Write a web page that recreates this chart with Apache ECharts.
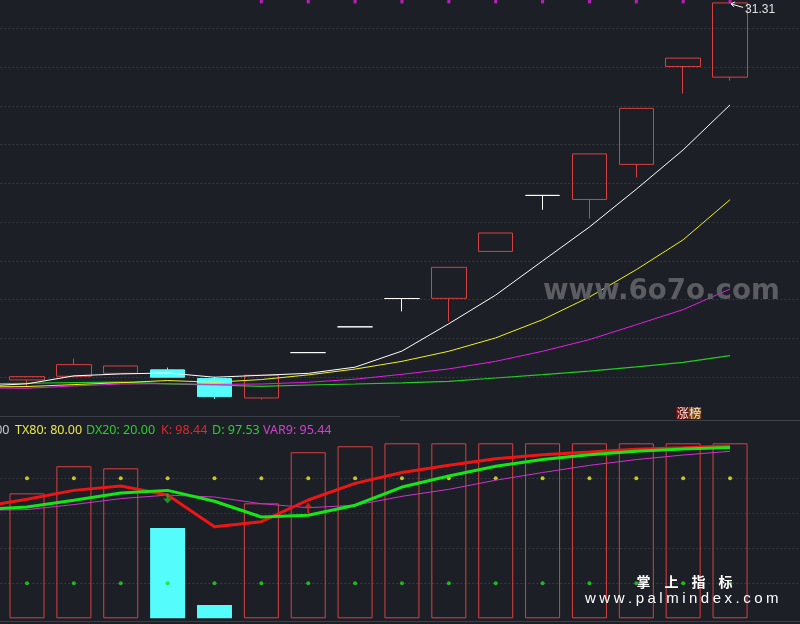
<!DOCTYPE html>
<html><head><meta charset="utf-8">
<script src="https://cdn.jsdelivr.net/npm/echarts@6/dist/echarts.min.js"></script>
<style>html,body{margin:0;padding:0;background:#1d1f27;}#c{width:800px;height:624px;}</style>
</head><body><div id="c"></div>
<script>
// ---------- data ----------
const categories = ['d01','d02','d03','d04','d05','d06','d07','d08','d09','d10','d11','d12','d13','d14','d15','d16','d17','d18'];
const candleOpen  = [null, 11.86, 12.05, 12.20, 12.38, 11.93, 10.93, 13.27, 14.60, 16.06, 16.07, 18.49, 21.38, 21.17, 22.98, 28.03, 27.48, null];
const candleClose = [null, 12.03, 12.65, 12.58, 12.00, 11.00, 12.10, 13.27, 14.60, 16.06, 17.67, 19.44, 21.38, 23.52, 25.87, 28.46, 31.31, null];
const candleLow   = [null, 11.50, 12.05, 12.20, 12.00, 10.88, 10.85, 13.27, 14.60, 15.40, 14.88, 18.49, 20.64, 20.18, 22.31, 26.63, 27.30, null];
const candleHigh  = [null, 12.03, 12.96, 12.58, 12.50, 12.02, 12.10, 13.27, 14.60, 16.06, 17.67, 19.44, 21.38, 23.52, 25.87, 28.46, 31.31, null];
const ma5  = [11.54, 11.66, 12.07, 12.17, 12.22, 12.00, 12.10, 12.20, 12.52, 13.35, 14.76, 16.24, 18.00, 19.75, 21.70, 23.73, 26.05, null];
const ma10 = [11.50, 11.52, 11.62, 11.72, 11.83, 11.74, 11.88, 12.12, 12.42, 12.82, 13.34, 14.03, 14.97, 16.14, 17.55, 19.09, 21.16, null];
const ma20 = [11.45, 11.43, 11.55, 11.65, 11.67, 11.63, 11.65, 11.74, 11.90, 12.15, 12.43, 12.82, 13.34, 13.94, 14.71, 15.49, 16.55, null];
const ma60 = [11.65, 11.69, 11.72, 11.75, 11.66, 11.60, 11.53, 11.60, 11.65, 11.71, 11.79, 11.96, 12.13, 12.31, 12.53, 12.77, 13.11, null];
const topSignal = [0,0,0,0,0,0,1,1,1,1,1,1,1,1,1,1,1,0];
const limitTag = [0,0,0,0,0,0,0,0,0,0,0,0,0,0,0,1,0,0];
const barVal = [null, 71.4, 86.9, 85.7, 51.6, 7.6, 65.7, 94.9, 98.3, 100, 100, 100, 100, 100, 100, 100, 100, null];
const kVal   = [63.6, 68.0, 73.1, 75.6, 70.5, 52.3, 55.2, 67.6, 77.1, 83.3, 87.4, 91.2, 93.5, 95.0, 96.6, 97.5, 98.44, null];
const dVal   = [62.0, 63.6, 67.4, 71.6, 73.1, 66.9, 57.9, 58.9, 64.6, 75.0, 81.3, 86.9, 90.7, 93.5, 95.4, 96.8, 97.53, null];
const var9   = [61.7, 62.1, 65.0, 68.4, 70.4, 69.3, 65.5, 63.2, 64.6, 69.7, 73.7, 78.9, 83.3, 87.4, 90.7, 93.3, 95.44, null];
const tx80 = [null, 80,80,80,80,80,80,80,80,80,80,80,80,80,80,80,80, null];
const dx20 = [null, 20,20,20,20,20,20,20,20,20,20,20,20,20,20,20,20, null];
const crossDown = [null,null,null,null,68.5,null,null,null,null,null,null,null,null,null,null,null,null,null];
const crossUp   = [null,null,null,null,null,null,null,63.1,null,null,null,null,null,null,null,null,null,null];
const prevLabelTail = '00';

// ---------- styles ----------
const BG = '#1d1f27';
const RED = '#d84040';
const CYAN = '#54fcfc';
const GRIDC = '#4d5059';
const SLOT = 46.87;
const GLEFT = -43.3;
const GWIDTH = SLOT * categories.length;

const chart = echarts.init(document.getElementById('c'), null, {renderer: 'canvas'});

const candleData = categories.map((c, i) => {
  if (candleOpen[i] == null) return '-';
  const v = [candleOpen[i], candleClose[i], candleLow[i], candleHigh[i]];
  if (candleOpen[i] === candleClose[i]) {
    return {value: v, itemStyle: {color: '#ffffff', color0: '#ffffff', borderColor: '#ffffff', borderColor0: '#ffffff'}};
  }
  return v;
});
const barData = categories.map((c, i) => {
  if (barVal[i] == null) return '-';
  const down = candleClose[i] < candleOpen[i];
  return {value: barVal[i], itemStyle: down ? {color: CYAN, borderColor: CYAN, borderWidth: 0} : {color: 'transparent', borderColor: RED, borderWidth: 1}};
});
const topMarks = topSignal.map(s => s ? 31.39 : null);

const xAxisBase = {type: 'category', data: categories, show: false, boundaryGap: true};
const splitBase = {show: true, showMinLine: false, showMaxLine: false, lineStyle: {color: GRIDC, type: [1, 3], width: 1}};

function ltext(x, y, str, color, align) {
  return {type: 'text', x: x, y: y, silent: true, z: 100,
    style: {text: str, fill: color, font: '12.5px "Noto Sans"', align: align || 'left', verticalAlign: 'middle'}};
}

const option = {
  animation: false,
  backgroundColor: BG,
  grid: [
    {left: GLEFT, width: GWIDTH, top: 0, height: 416, outerBoundsMode: 'none', containLabel: false},
    {left: GLEFT, width: GWIDTH, top: 443.3, height: 175, outerBoundsMode: 'none', containLabel: false}
  ],
  xAxis: [Object.assign({gridIndex: 0}, xAxisBase), Object.assign({gridIndex: 1}, xAxisBase)],
  yAxis: [
    {gridIndex: 0, type: 'value', min: 10, max: 31.46, interval: 2, axisLabel: {show: false}, axisLine: {show: false}, axisTick: {show: false}, splitLine: splitBase},
    {gridIndex: 1, type: 'value', min: 0, max: 100, interval: 20, axisLabel: {show: false}, axisLine: {show: false}, axisTick: {show: false}, splitLine: splitBase}
  ],
  series: [
    {type: 'candlestick', xAxisIndex: 0, yAxisIndex: 0, data: candleData, barWidth: 35, z: 2,
      itemStyle: {color: 'transparent', color0: CYAN, borderColor: RED, borderColor0: CYAN, borderWidth: 1}},
    {type: 'line', xAxisIndex: 0, yAxisIndex: 0, data: ma60, symbol: 'none', z: 3, lineStyle: {color: '#22cc22', width: 1.2}},
    {type: 'line', xAxisIndex: 0, yAxisIndex: 0, data: ma20, symbol: 'none', z: 3, lineStyle: {color: '#e020e0', width: 1}},
    {type: 'line', xAxisIndex: 0, yAxisIndex: 0, data: ma10, symbol: 'none', z: 3, lineStyle: {color: '#f0f020', width: 1}},
    {type: 'line', xAxisIndex: 0, yAxisIndex: 0, data: ma5, symbol: 'none', z: 3, lineStyle: {color: '#ffffff', width: 1}},
    {type: 'scatter', xAxisIndex: 0, yAxisIndex: 0, data: topMarks, symbol: 'rect', symbolSize: [3, 4], z: 4, itemStyle: {color: '#e020e0'}},

    {type: 'bar', xAxisIndex: 1, yAxisIndex: 1, data: barData, barWidth: 35, z: 2},
    {type: 'scatter', xAxisIndex: 1, yAxisIndex: 1, data: tx80, symbolSize: 4, z: 3, itemStyle: {color: '#f0f020'}},
    {type: 'scatter', xAxisIndex: 1, yAxisIndex: 1, data: dx20, symbolSize: 4, z: 3, itemStyle: {color: '#22dd22'}},
    {type: 'line', xAxisIndex: 1, yAxisIndex: 1, data: var9, symbol: 'none', z: 4, lineStyle: {color: '#cc33cc', width: 1}},
    {type: 'line', xAxisIndex: 1, yAxisIndex: 1, data: kVal, symbol: 'none', z: 5, lineStyle: {color: '#ee1515', width: 3}},
    {type: 'line', xAxisIndex: 1, yAxisIndex: 1, data: dVal, symbol: 'none', z: 6, lineStyle: {color: '#15e615', width: 3}},
    {type: 'scatter', xAxisIndex: 1, yAxisIndex: 1, data: crossDown, z: 7, symbol: 'path://M3,0 L5,0 L5,5 L8,5 L4,10 L0,5 L3,5 Z', symbolSize: [9, 10], itemStyle: {color: '#22b022'}},
    {type: 'scatter', xAxisIndex: 1, yAxisIndex: 1, data: crossUp, z: 7, symbol: 'path://M4,0 L8,5 L5,5 L5,11 L3,11 L3,5 L0,5 Z', symbolSize: [8, 11], itemStyle: {color: '#ee2020'}}
  ]
};
chart.setOption(option);

// ---------- annotations ----------
const last = 16;
const pHigh = chart.convertToPixel({xAxisIndex: 0, yAxisIndex: 0}, [last, candleHigh[last]]);
const tagIdx = limitTag.indexOf(1);
const pTag = chart.convertToPixel({xAxisIndex: 0, yAxisIndex: 0}, [tagIdx, 10]);

const meas = document.createElement('canvas').getContext('2d');
function spaced(str, x, y, font, spacing, color) {
  meas.font = font;
  const els = [];
  let cx = x;
  for (const ch of str) {
    els.push({type: 'text', x: cx, y: y, silent: true, z: 100,
      style: {text: ch, fill: color, font: font, align: 'left', verticalAlign: 'middle'}});
    cx += meas.measureText(ch).width + spacing;
  }
  return els;
}

const graphics = [
  {type: 'line', silent: true, z: 90, shape: {x1: 0, y1: 416.5, x2: 400, y2: 416.5}, style: {stroke: '#3d4049', lineWidth: 1}},
  {type: 'line', silent: true, z: 90, shape: {x1: 400, y1: 420.5, x2: 800, y2: 420.5}, style: {stroke: '#3d4049', lineWidth: 1}},
  {type: 'line', silent: true, z: 90, shape: {x1: 0, y1: 621.5, x2: 800, y2: 621.5}, style: {stroke: '#3d4049', lineWidth: 1}},
  ltext(9.5, 430, prevLabelTail, '#c8c8c8', 'right'),
  ltext(15, 430, 'TX80: ' + tx80[1].toFixed(2), '#e8e84a'),
  ltext(86, 430, 'DX20: ' + dx20[1].toFixed(2), '#2ecc2e'),
  ltext(161, 430, 'K: ' + kVal[last].toFixed(2), '#e02828'),
  ltext(212, 430, 'D: ' + dVal[last].toFixed(2), '#2ecc2e'),
  ltext(263, 430, 'VAR9: ' + var9[last].toFixed(2), '#cc44cc'),
  // high price pointer
  {type: 'polyline', silent: true, z: 100, shape: {points: [[pHigh[0] + 1, pHigh[1] + 1], [pHigh[0] + 13, pHigh[1] + 4.5]]}, style: {stroke: '#ffffff', lineWidth: 1}},
  {type: 'polyline', silent: true, z: 100, shape: {points: [[pHigh[0] + 5, pHigh[1] - 1], [pHigh[0] + 1, pHigh[1] + 1], [pHigh[0] + 4, pHigh[1] + 4]]}, style: {stroke: '#ffffff', lineWidth: 1, fill: null}},
  {type: 'text', silent: true, z: 100, x: pHigh[0] + 15, y: pHigh[1] + 6.5, style: {text: candleHigh[last].toFixed(2), fill: '#e0e0e0', font: '12px "Liberation Sans"', verticalAlign: 'middle'}},
  // 涨榜 tag
  {type: 'rect', silent: true, z: 100, shape: {x: pTag[0] - 7, y: 407, width: 12.5, height: 12}, style: {fill: '#7a0c0c'}},
  {type: 'rect', silent: true, z: 100, shape: {x: pTag[0] + 5.5, y: 407, width: 12.5, height: 12}, style: {fill: '#7a4812'}},
  {type: 'text', silent: true, z: 101, x: pTag[0] - 6.5, y: 413.5, style: {text: '涨', fill: '#f4e8e0', font: '12px "Noto Sans CJK SC"', verticalAlign: 'middle'}},
  {type: 'text', silent: true, z: 101, x: pTag[0] + 6, y: 413.5, style: {text: '榜', fill: '#f4e8e0', font: '12px "Noto Sans CJK SC"', verticalAlign: 'middle'}},
  // watermarks
  {type: 'text', silent: true, z: 110, x: 543, y: 292, style: {text: 'www.6o7o.com', fill: '#5c5d63', font: 'bold 27.7px "DejaVu Sans"', verticalAlign: 'middle'}},
  {type: 'text', silent: true, z: 110, x: 643.5, y: 581.5, style: {text: '掌', fill: '#ffffff', font: 'bold 14px "Noto Sans CJK SC"', align: 'center', verticalAlign: 'middle'}},
  {type: 'text', silent: true, z: 110, x: 671.5, y: 581.5, style: {text: '上', fill: '#ffffff', font: 'bold 14px "Noto Sans CJK SC"', align: 'center', verticalAlign: 'middle'}},
  {type: 'text', silent: true, z: 110, x: 698.5, y: 581.5, style: {text: '指', fill: '#ffffff', font: 'bold 14px "Noto Sans CJK SC"', align: 'center', verticalAlign: 'middle'}},
  {type: 'text', silent: true, z: 110, x: 725.5, y: 581.5, style: {text: '标', fill: '#ffffff', font: 'bold 14px "Noto Sans CJK SC"', align: 'center', verticalAlign: 'middle'}}
].concat(spaced('www.palmindex.com', 585, 599, '15px "Liberation Sans"', 3.5, '#ffffff'));

chart.setOption({graphic: graphics});
</script>
</body></html>
